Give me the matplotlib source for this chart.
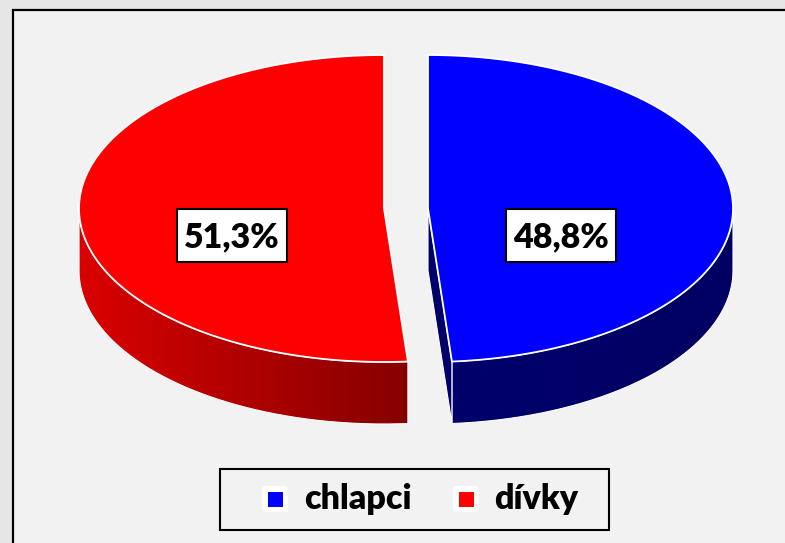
# -*- coding: utf-8 -*-
"""
Kolacovy graf s 3D vzhledem: chlapci / divky
"""
import numpy as np
import matplotlib
matplotlib.use('Agg')
import matplotlib.pyplot as plt
from matplotlib.colors import LinearSegmentedColormap
from matplotlib.patches import FancyBboxPatch, PathPatch, Polygon, Rectangle
from matplotlib.path import Path

categories = ['chlapci', 'dívky']
values = [48.8, 51.3]
value_labels = ['48,8%', '51,3%']
top_colors = ['#0000ff', '#ff0000']
side_colors = [('#00006c', '#000062'), ('#da0000', '#860000')]

# geometrie v pixelech
RX, RY, DEPTH = 305, 153.5, 62
CENTERS = [(428, 208.5), (384, 208.5)]
LABEL_POS = [(561, 237), (232, 237)]
LEGEND_X = [(275, 304), (466, 494)]

plt.rcParams['font.family'] = ['Lato', 'DejaVu Sans']

fig = plt.figure(figsize=(7.85, 5.43), dpi=100, facecolor='#e6e6e6')
ax = fig.add_axes([0, 0, 1, 1])
ax.axis('off')

ax.add_patch(Rectangle((12.5, 9.5), 800, 560, fc='#f2f2f2', ec='black', lw=1.6,
                       zorder=0))


def rim(center, a0, a1, dy=0, n=240):
    """body obvodu elipsy, uhel od vrcholu po smeru hodin"""
    t = np.radians(np.linspace(a0, a1, n))
    return np.column_stack((center[0] + RX * np.sin(t),
                            center[1] - RY * np.cos(t) + dy))


def draw_side(pts, col0, col1):
    """bok vysece s vodorovnym prechodem barvy"""
    cmap = LinearSegmentedColormap.from_list('side', [col0, col1])
    path = Path(pts)
    x0, x1 = pts[:, 0].min(), pts[:, 0].max()
    y0, y1 = pts[:, 1].min(), pts[:, 1].max()
    im = ax.imshow(np.linspace(0, 1, 256)[None, :], cmap=cmap, aspect='auto',
                   extent=(x0, x1, y1, y0), zorder=2, interpolation='bilinear')
    patch = PathPatch(path, fc='none', ec='white', lw=0.8, zorder=3)
    ax.add_patch(patch)
    im.set_clip_path(patch)


angles = np.cumsum([0] + [v / sum(values) * 360 for v in values])

for i, name in enumerate(categories):
    c = CENTERS[i]
    a0, a1 = angles[i], angles[i + 1]
    # viditelna cast obvodu je jen dolni polovina elipsy
    s0, s1 = max(a0, 90), min(a1, 270)
    top = rim(c, s0, s1)
    low = rim(c, s0, s1, DEPTH)
    draw_side(np.vstack((top, low[::-1], top[:1])), *side_colors[i])
    if i == 0:
        # rez blize k divakovi
        end = rim(c, a1, a1, n=1)[0]
        ax.add_patch(Polygon([c, end, end + [0, DEPTH], (c[0], c[1] + DEPTH)],
                             fc='#00006a', ec='white', lw=0.8, zorder=3))
    pts = np.vstack(([c], rim(c, a0, a1), [c]))
    ax.add_patch(Polygon(pts, closed=True, fc=top_colors[i], ec='white', lw=1.3,
                         joinstyle='miter', zorder=4))
    ax.text(*LABEL_POS[i], value_labels[i], ha='center', va='center',
            fontsize=24.5, fontweight='heavy', color='black', zorder=6)
    ax.add_patch(Rectangle((LABEL_POS[i][0] - 55, 209), 109.5, 53, fc='white',
                           ec='black', lw=1.5, zorder=5))

# legenda
ax.add_patch(Rectangle((219.5, 468.5), 389, 61, fc='#f2f2f2', ec='black', lw=1.5,
                       zorder=1))
for i, name in enumerate(categories):
    mx, tx = LEGEND_X[i]
    ax.add_patch(FancyBboxPatch((mx - 11, 488), 22, 22,
                                boxstyle='round,pad=2,rounding_size=3',
                                fc='white', ec='none', zorder=2))
    ax.add_patch(Rectangle((mx - 7.5, 491.5), 15, 15, fc=top_colors[i], ec='none',
                           zorder=3))
    ax.text(tx, 499, name, ha='left', va='center', fontsize=24.5,
            fontweight='heavy', color='black', zorder=3)

ax.set_xlim(0, 785)
ax.set_ylim(543, 0)
fig.savefig('out.png', dpi=100, facecolor=fig.get_facecolor())
plt.close('all')
